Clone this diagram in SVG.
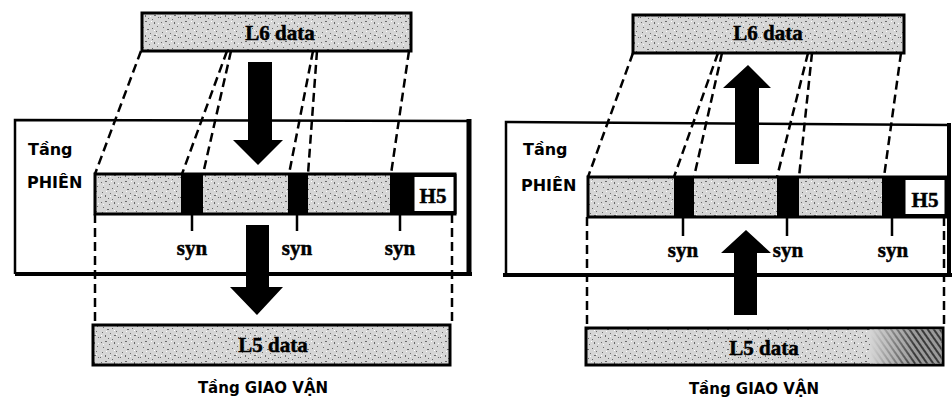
<svg xmlns="http://www.w3.org/2000/svg" width="952" height="400" viewBox="0 0 952 400">
<defs>
<pattern id="stip" width="20" height="20" patternUnits="userSpaceOnUse">
<rect width="20" height="20" fill="#d6d6d6"/>
<g fill="#6a6a6a">
<rect x="1" y="2" width="1" height="1"/><rect x="5" y="1" width="2" height="1"/><rect x="9" y="4" width="1" height="1"/>
<rect x="14" y="2" width="1" height="2"/><rect x="17" y="6" width="1" height="1"/><rect x="3" y="7" width="1" height="1"/>
<rect x="7" y="9" width="2" height="1"/><rect x="12" y="8" width="1" height="1"/><rect x="16" y="11" width="1" height="1"/>
<rect x="2" y="12" width="1" height="1"/><rect x="10" y="13" width="1" height="1"/><rect x="5" y="15" width="1" height="2"/>
<rect x="14" y="15" width="2" height="1"/><rect x="18" y="17" width="1" height="1"/><rect x="8" y="18" width="1" height="1"/>
<rect x="0" y="17" width="1" height="1"/><rect x="12" y="19" width="1" height="1"/>
</g>
<g fill="#ffffff">
<rect x="3" y="4" width="1" height="1"/><rect x="11" y="1" width="1" height="1"/><rect x="18" y="3" width="1" height="1"/>
<rect x="6" y="11" width="1" height="1"/><rect x="14" y="10" width="1" height="1"/><rect x="1" y="15" width="1" height="1"/>
<rect x="10" y="16" width="1" height="1"/><rect x="16" y="14" width="1" height="1"/>
</g>
</pattern>
<pattern id="hatch" width="5" height="5" patternUnits="userSpaceOnUse" patternTransform="rotate(-35)">
<rect width="5" height="5" fill="#9a9a9a"/>
<rect width="2" height="5" fill="#3a3a3a"/>
</pattern>
<linearGradient id="fade" x1="0" x2="1" y1="0" y2="0">
<stop offset="0" stop-color="#d6d6d6" stop-opacity="1"/>
<stop offset="1" stop-color="#d6d6d6" stop-opacity="0"/>
</linearGradient>
</defs>
<style>
.box{fill:url(#stip);stroke:#000;stroke-width:3}
.frame{fill:none;stroke:#000;stroke-width:2.5}
.dash{fill:none;stroke:#000;stroke-width:2.5;stroke-dasharray:9 5}
.tick{stroke:#000;stroke-width:2.5}
.blk{fill:#000}
.hbox{fill:#fff;stroke:#000;stroke-width:3}
.ser{font-family:"Liberation Serif","Times New Roman",serif;font-weight:bold;fill:#000;stroke:#000;stroke-width:0.5;text-anchor:middle}
.big{font-size:21px}
.syn{font-size:21px}
.sans{font-family:"DejaVu Sans","Liberation Sans",sans-serif;font-weight:bold;font-size:16px;fill:#000}
.cap{font-size:15px}
.mid{text-anchor:middle}
</style>
<rect width="952" height="400" fill="#fff"/>

<!-- LEFT PANEL -->
<g id="left-session-frame">
<path class="frame" d="M15,274 L15,120 L467,121"/>
<line x1="469" y1="119" x2="469" y2="276" stroke="#000" stroke-width="5"/>
<line x1="15" y1="274" x2="472" y2="274" stroke="#000" stroke-width="4"/>
<text class="sans" x="28" y="155">Tầng</text>
<text class="sans" x="27" y="188">PHIÊN</text>
</g>
<g id="left-l6">
<rect class="box" x="142" y="13" width="269" height="38"/>
<text class="ser big" x="280" y="40">L6 data</text>
</g>
<g id="left-bar">
<rect class="box" x="95" y="174" width="360" height="40"/>
<rect class="blk" x="181" y="174" width="22" height="40"/>
<rect class="blk" x="288" y="174" width="20" height="40"/>
<rect class="blk" x="390" y="174" width="23" height="40"/>
<rect class="hbox" x="413" y="175.5" width="42" height="37"/>
<text class="ser big" x="433" y="203">H5</text>
</g>
<g id="left-syn">
<line class="tick" x1="192" y1="214" x2="192" y2="231"/>
<line class="tick" x1="297" y1="214" x2="297" y2="231"/>
<line class="tick" x1="400" y1="214" x2="400" y2="231"/>
<text class="ser syn" x="192" y="255">syn</text>
<text class="ser syn" x="297" y="255">syn</text>
<text class="ser syn" x="400" y="255">syn</text>
</g>
<g id="left-l5">
<rect class="box" x="93" y="325" width="357" height="40"/>
<text class="ser big" x="273" y="352">L5 data</text>
</g>
<g id="left-caption">
<text class="sans cap mid" x="263" y="393">Tầng GIAO VẬN</text>
</g>

<!-- RIGHT PANEL -->
<g id="right-session-frame">
<path class="frame" d="M506,274 L506,122 L950,125"/>
<line x1="949" y1="123" x2="949" y2="276" stroke="#000" stroke-width="4"/>
<line x1="503" y1="275" x2="952" y2="275" stroke="#000" stroke-width="4"/>
<text class="sans" x="523" y="155">Tầng</text>
<text class="sans" x="521" y="191">PHIÊN</text>
</g>
<g id="right-l6">
<rect class="box" x="633" y="15" width="271" height="38"/>
<text class="ser big" x="768" y="40">L6 data</text>
</g>
<g id="right-bar">
<rect class="box" x="588" y="177" width="358" height="40"/>
<rect class="blk" x="674" y="177" width="20" height="40"/>
<rect class="blk" x="777" y="177" width="22" height="40"/>
<rect class="blk" x="882" y="177" width="22" height="40"/>
<rect class="hbox" x="904" y="178.5" width="42" height="37"/>
<text class="ser big" x="925" y="207">H5</text>
</g>
<g id="right-syn">
<line class="tick" x1="683" y1="217" x2="683" y2="236"/>
<line class="tick" x1="787" y1="217" x2="787" y2="236"/>
<line class="tick" x1="892" y1="217" x2="892" y2="236"/>
<text class="ser syn" x="683" y="257">syn</text>
<text class="ser syn" x="788" y="257">syn</text>
<text class="ser syn" x="893" y="257">syn</text>
</g>
<g id="right-l5">
<rect class="box" x="586" y="328" width="357" height="37"/>
<rect x="870" y="329.5" width="71.5" height="34" fill="url(#hatch)"/>
<rect x="870" y="329.5" width="45" height="34" fill="url(#fade)"/>
<text class="ser big" x="764" y="355">L5 data</text>
</g>
<g id="right-caption">
<text class="sans cap mid" x="754" y="394">Tầng GIAO VẬN</text>
</g>

<!-- CONNECTORS -->
<g id="connectors">
<line class="dash" x1="141" y1="51" x2="95" y2="174"/>
<line class="dash" x1="227" y1="51" x2="182" y2="174"/>
<line class="dash" x1="231" y1="51" x2="203" y2="174"/>
<line class="dash" x1="313" y1="51" x2="289" y2="174"/>
<line class="dash" x1="317" y1="51" x2="308" y2="174"/>
<line class="dash" x1="409" y1="51" x2="391" y2="174"/>
<line class="dash" x1="95" y1="214" x2="95" y2="325"/>
<line class="dash" x1="452" y1="214" x2="452" y2="325"/>
<polygon class="blk" points="248,62 272,62 272,140 283,140 258,165 233,140 248,140"/>
<polygon class="blk" points="246,225 269,225 269,287 283,287 257,315 230,287 246,287"/>

<line class="dash" x1="633" y1="53" x2="588" y2="177"/>
<line class="dash" x1="718" y1="53" x2="674" y2="177"/>
<line class="dash" x1="722" y1="53" x2="694" y2="177"/>
<line class="dash" x1="808" y1="53" x2="777" y2="177"/>
<line class="dash" x1="812" y1="53" x2="799" y2="177"/>
<line class="dash" x1="901" y1="53" x2="884" y2="177"/>
<line class="dash" x1="587" y1="217" x2="587" y2="328"/>
<line class="dash" x1="944" y1="217" x2="944" y2="328"/>
<polygon class="blk" points="748,65 771,88 759,88 759,164 735,164 735,88 723,88"/>
<polygon class="blk" points="746,230 771,253 757,253 757,315 734,315 734,253 721,253"/>
</g>
</svg>
